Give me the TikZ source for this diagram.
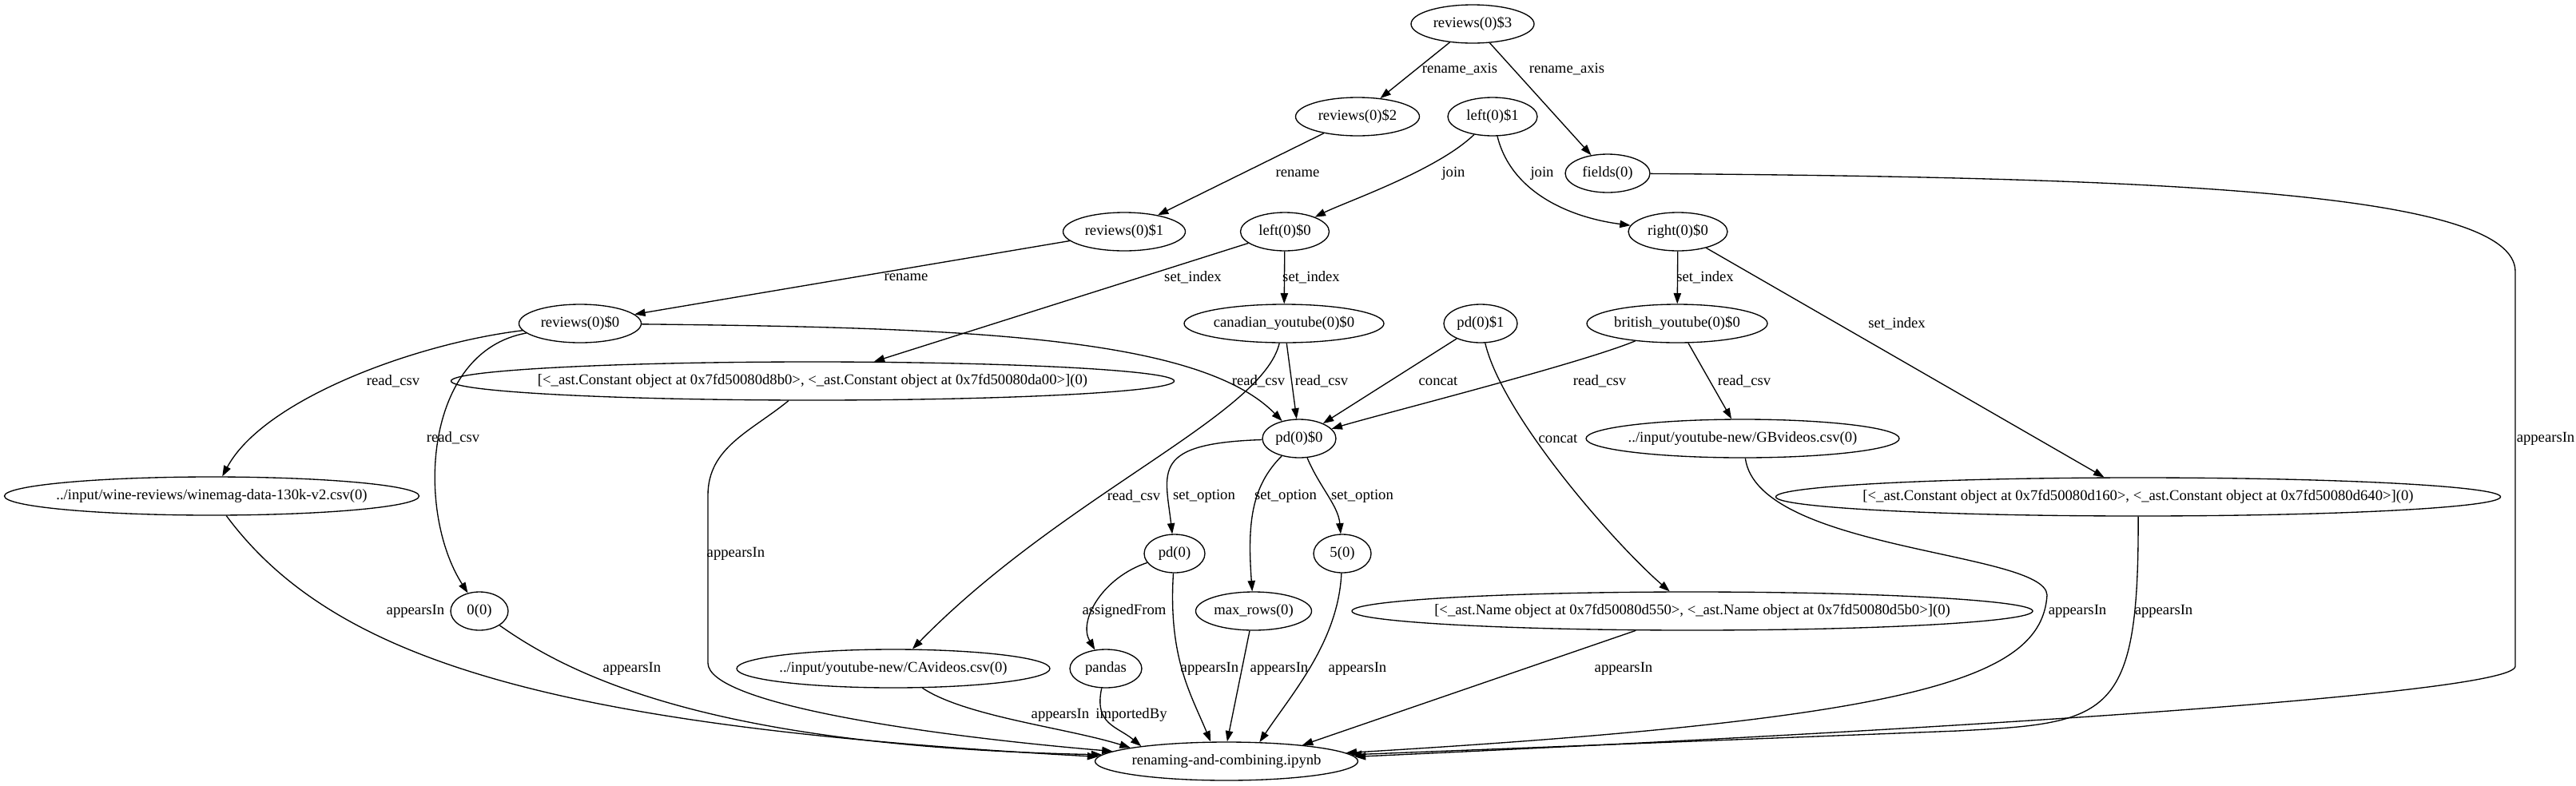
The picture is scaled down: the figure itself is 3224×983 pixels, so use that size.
\documentclass[tikz,border=0pt]{standalone}
\usepackage{fontspec}
\setmainfont{Liberation Serif}
\usetikzlibrary{arrows.meta,shapes.geometric}
\begin{document}
\begin{tikzpicture}[x=0.75pt,y=-0.75pt,
  ell/.style={ellipse,draw,line width=1pt,inner sep=0pt,minimum height=36pt,
    font=\fontsize{14}{16}\selectfont},
  ew/.style={minimum width=#1*0.75pt},
  lbl/.style={inner sep=0pt,font=\fontsize{14}{16}\selectfont},
  e/.style={draw,line width=1pt,-{Triangle[length=10pt,width=7pt]}}]
\useasboundingbox (0,0) rectangle (3224,983);
\fill[white] (0,0) rectangle (3224,983);
% nodes
\node[ell,ew=154] (r3) at (1843,30) {\makebox[0pt]{reviews(0)\$3}};
\node[ell,ew=155] (r2) at (1699,146) {\makebox[0pt]{reviews(0)\$2}};
\node[ell,ew=112] (l1) at (1868,146) {\makebox[0pt]{left(0)\$1}};
\node[ell,ew=106] (fields) at (2012,217) {\makebox[0pt]{fields(0)}};
\node[ell,ew=153] (r1) at (1407,290) {\makebox[0pt]{reviews(0)\$1}};
\node[ell,ew=111] (l0) at (1608,290) {\makebox[0pt]{left(0)\$0}};
\node[ell,ew=124] (right0) at (2100,290) {\makebox[0pt]{right(0)\$0}};
\node[ell,ew=153] (r0) at (726,405) {\makebox[0pt]{reviews(0)\$0}};
\node[ell,ew=250] (canadian) at (1607,405) {\makebox[0pt]{canadian\_youtube(0)\$0}};
\node[ell,ew=92] (pd1) at (1853,405) {\makebox[0pt]{pd(0)\$1}};
\node[ell,ew=226] (british) at (2099,405) {\makebox[0pt]{british\_youtube(0)\$0}};
\node[ell,ew=905] (const1) at (1017,477) {\makebox[0pt]{[<\_ast.Constant object at 0x7fd50080d8b0>, <\_ast.Constant object at 0x7fd50080da00>](0)}};
\node[ell,ew=92] (pd0) at (1626,549) {\makebox[0pt]{pd(0)\$0}};
\node[ell,ew=519] (wine) at (265,621) {\makebox[0pt]{../input/wine-reviews/winemag-data-130k-v2.csv(0)}};
\node[ell,ew=392] (GB) at (2181,549) {\makebox[0pt]{../input/youtube-new/GBvideos.csv(0)}};
\node[ell,ew=907] (const2) at (2676,622) {\makebox[0pt]{[<\_ast.Constant object at 0x7fd50080d160>, <\_ast.Constant object at 0x7fd50080d640>](0)}};
\node[ell,ew=76] (pdz) at (1470,693) {\makebox[0pt]{pd(0)}};
\node[ell,ew=145] (maxrows) at (1569,765) {\makebox[0pt]{max\_rows(0)}};
\node[ell,ew=72] (five) at (1680,693) {\makebox[0pt]{5(0)}};
\node[ell,ew=852] (name) at (2118,765) {\makebox[0pt]{[<\_ast.Name object at 0x7fd50080d550>, <\_ast.Name object at 0x7fd50080d5b0>](0)}};
\node[ell,ew=72] (zero) at (600,765) {\makebox[0pt]{0(0)}};
\node[ell,ew=392] (CA) at (1118,837) {\makebox[0pt]{../input/youtube-new/CAvideos.csv(0)}};
\node[ell,ew=90] (pandas) at (1384,837) {\makebox[0pt]{pandas}};
\node[ell,ew=329] (renaming) at (1535,953) {\makebox[0pt]{renaming-and-combining.ipynb}};
% edges
\draw[e] (r3) -- (r2);
\draw[e] (r3) -- (fields);
\draw[e] (r2) -- (r1);
\draw[e] (l1) .. controls +(-69,67) and +(78,-38) .. (l0);
\draw[e] (l1) .. controls +(23,94) and +(-137,-18) .. (right0);
\draw[e] (r1) -- (r0);
\draw[e] (l0) -- (const1);
\draw[e] (l0) -- (canadian);
\draw[e] (right0) -- (british);
\draw[e] (right0) -- (const2);
\draw[e] (fields) .. controls (2700,222) and (3148,240) .. (3148,340) -- (3148,834) .. controls (3148,870) and (2400,915) .. (renaming.2);
\draw[e] (r0) .. controls +(-206,25) and +(65,-121) .. (wine);
\draw[e] (r0) .. controls +(-196,35) and +(-80,-125) .. (zero);
\draw[e] (r0) .. controls +(474,5) and +(-126,-129) .. (pd0);
\draw[e] (canadian) -- (pd0);
\draw[e] (canadian) .. controls +(-27,115) and +(212,-217) .. (CA);
\draw[e] (pd1) -- (pd0);
\draw[e] (pd1) .. controls +(27,115) and +(-98,-85) .. (name);
\draw[e] (british) .. controls +(-120,50) and +(100,-30) .. (pd0);
\draw[e] (british) -- (GB);
\draw[e] (const1) .. controls (940,540) and (886,560) .. (886,620) -- (886,830) .. controls (886,880) and (1150,920) .. (renaming.175);
\draw[e] (pd0) .. controls +(-186,6) and +(-12,-103) .. (pdz);
\draw[e] (pd0) .. controls +(-60,60) and +(-8,-110) .. (maxrows);
\draw[e] (pd0) .. controls +(25,60) and +(-5,-60) .. (five);
\draw[e] (wine) .. controls +(155,209) and +(-675,-37) .. (renaming.178);
\draw[e] (GB) .. controls (2200,690) and (2560,690) .. (2562,745) .. controls (2555,850) and (2400,900) .. (renaming.4);
\draw[e] (const2) .. controls (2677,900) and (2640,905) .. (2450,915) -- (renaming.3);
\draw[e] (pdz) .. controls +(-90,30) and +(-35,-60) .. (pandas);
\draw[e] (pdz) .. controls +(-8,130) and +(-25,-60) .. (renaming.129);
\draw[e] (maxrows) -- (renaming.88);
\draw[e] (five) .. controls +(-5,110) and +(40,-60) .. (renaming.30);
\draw[e] (name) -- (renaming.12);
\draw[e] (zero) .. controls +(120,85) and +(-480,-10) .. (renaming.177);
\draw[e] (CA) .. controls +(90,60) and +(-80,-25) .. (renaming.172);
\draw[e] (pandas) .. controls +(-15,70) and +(-30,-25) .. (renaming.170);
% edge labels
\node[lbl] (t1) at (1827,87) {rename\_axis};
\node[lbl] (t2) at (1961,87) {rename\_axis};
\node[lbl] (t3) at (1624,217) {rename};
\node[lbl] (t4) at (1819,217) {join};
\node[lbl] (t5) at (1930,217) {join};
\node[lbl] (t6) at (1134,347) {rename};
\node[lbl] (t7) at (1493,347) {set\_index};
\node[lbl] (t8) at (1641,347) {set\_index};
\node[lbl] (t9) at (2134,347) {set\_index};
\node[lbl] (t10) at (2374,405) {set\_index};
\node[lbl] (t11) at (492,477) {read\_csv};
\node[lbl] (t12) at (567,548) {read\_csv};
\node[lbl] (t13) at (1575,477) {read\_csv};
\node[lbl] (t14) at (1654,477) {read\_csv};
\node[lbl] (t15) at (1800,477) {concat};
\node[lbl] (t16) at (2002,477) {read\_csv};
\node[lbl] (t17) at (2183,477) {read\_csv};
\node[lbl] (t18) at (1950,549) {concat};
\node[lbl] (t19) at (1419,621) {read\_csv};
\node[lbl] (t20) at (1507,621) {set\_option};
\node[lbl] (t21) at (1609,621) {set\_option};
\node[lbl] (t22) at (1705,621) {set\_option};
\node[lbl] (t23) at (921,693) {appearsIn};
\node[lbl] (t24) at (520,765) {appearsIn};
\node[lbl] (t25) at (791,837) {appearsIn};
\node[lbl] (t26) at (1407,765) {assignedFrom};
\node[lbl] (t27) at (1327,895) {appearsIn};
\node[lbl] (t28) at (1416,895) {importedBy};
\node[lbl] (t29) at (1514,837) {appearsIn};
\node[lbl] (t30) at (1601,837) {appearsIn};
\node[lbl] (t31) at (1699,837) {appearsIn};
\node[lbl] (t32) at (2032,837) {appearsIn};
\node[lbl] (t33) at (2600,765) {appearsIn};
\node[lbl] (t34) at (2708,765) {appearsIn};
\node[lbl] (t35) at (3186,549) {appearsIn};
\end{tikzpicture}
\end{document}
